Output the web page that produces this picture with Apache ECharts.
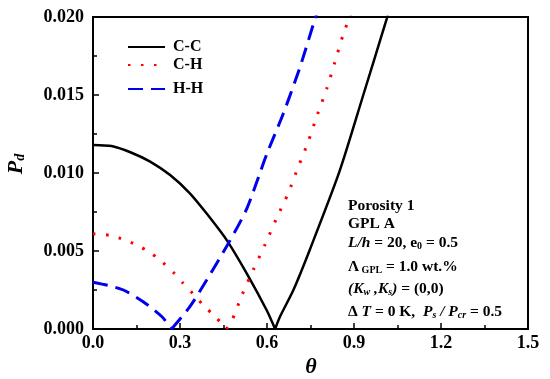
<!DOCTYPE html>
<html>
<head>
<meta charset="utf-8">
<script src="https://cdn.jsdelivr.net/npm/echarts@6/dist/echarts.min.js"></script>
<style>
html,body{margin:0;padding:0;background:#fff;}
#chart{width:550px;height:379px;}
</style>
</head>
<body>
<div id="chart"></div>
<script>
// ---- Data ----
var seriesNames = ['C-C', 'C-H', 'H-H'];

// C-C : descending arm, then rising arm (vertex shared)
var ccTheta = [0, 0.064, 0.133, 0.197, 0.266, 0.334, 0.392, 0.461, 0.53, 0.599, 0.628, 0.645, 0.691, 0.748, 0.85, 0.932, 1.013, 1.03];
var ccP     = [0.0118, 0.01173, 0.0113, 0.01073, 0.00987, 0.0087, 0.0074, 0.0057, 0.00357, 0.0012, 0.0, 0.0008, 0.0025, 0.0051, 0.0101, 0.015, 0.0199, 0.021];
var ccVertex = 10;

var chTheta = [0, 0.059, 0.105, 0.156, 0.197, 0.237, 0.277, 0.311, 0.346, 0.38, 0.415, 0.449, 0.46, 0.478, 0.513, 0.553, 0.593, 0.633, 0.673, 0.708, 0.742, 0.773, 0.806, 0.834, 0.863, 0.885, 0.9];
var chP     = [0.0061, 0.006, 0.00574, 0.00534, 0.0049, 0.00432, 0.00363, 0.00293, 0.00224, 0.00154, 0.0009, 0.00026, 0.0, 0.0005, 0.00214, 0.0038, 0.0054, 0.0071, 0.0087, 0.0104, 0.012, 0.0137, 0.0154, 0.0171, 0.0189, 0.02, 0.0209];
var chVertex = 12;

var hhTheta = [0, 0.05, 0.105, 0.173, 0.237, 0.271, 0.334, 0.392, 0.467, 0.53, 0.599, 0.656, 0.714, 0.766, 0.79];
var hhP     = [0.003, 0.0028, 0.0025, 0.00175, 0.0008, 0.0, 0.00143, 0.00314, 0.0055, 0.0077, 0.0112, 0.0138, 0.0168, 0.0199, 0.0212];
var hhVertex = 5;

var xTicks = {min: 0, max: 1.5, interval: 0.3};
var yTicks = {min: 0, max: 0.02, interval: 0.005};

var annotationLines = [
  'Porosity 1',
  'GPL A',
  '{i|L/h} = 20, e{sub|0} = 0.5',
  'Λ{sub| GPL} = 1.0 wt.%',
  '{i|(K}{isub|w}{i| ,K}{isub|s}{i|)} = (0,0)',
  'Δ {i|T} = 0 K,  {i|P}{isub|s}{i| / P}{isub|cr} = 0.5'
];

function zip(a, b, from, to) {
  var out = [];
  for (var i = from; i <= to; i++) out.push([a[i], b[i]]);
  return out;
}

var serif = '"Liberation Serif", "Times New Roman", serif';
var chart = echarts.init(document.getElementById('chart'), null, {renderer: 'canvas'});

var fs = 15.5;
var richStyles = {
  i:    {fontFamily: serif, fontWeight: 'bold', fontStyle: 'italic', fontSize: fs, fill: '#000'},
  sub:  {fontFamily: serif, fontWeight: 'bold', fontSize: 10, verticalAlign: 'bottom', fill: '#000'},
  isub: {fontFamily: serif, fontWeight: 'bold', fontStyle: 'italic', fontSize: 10, verticalAlign: 'bottom', fill: '#000'}
};
var lineY = [207, 225, 244, 268, 290, 313];
var graphics = annotationLines.map(function (t, k) {
  return {
    type: 'text', left: 348, top: lineY[k] - 9, z: 10,
    style: {text: t, fontFamily: serif, fontWeight: 'bold', fontSize: fs, fill: '#000', rich: richStyles}
  };
});
graphics.push({
  type: 'text', x: 16, y: 164, rotation: Math.PI / 2,
  style: {
    text: '{p|P}{d|d}', align: 'center', verticalAlign: 'middle',
    rich: {
      p: {fontFamily: serif, fontWeight: 'bold', fontStyle: 'italic', fontSize: 22, fill: '#000'},
      d: {fontFamily: serif, fontWeight: 'bold', fontStyle: 'italic', fontSize: 14, verticalAlign: 'bottom', fill: '#000'}
    }
  }
});
graphics.push({
  type: 'text', x: 311, y: 367,
  style: {text: 'θ', align: 'center', verticalAlign: 'middle', fontFamily: serif, fontWeight: 'bold', fontStyle: 'italic', fontSize: 22, fill: '#000'}
});

function legendFor(name, top) {
  return {
    data: [name], left: 127, top: top, padding: 0, orient: 'vertical',
    itemWidth: 37, itemHeight: 14,
    itemStyle: {opacity: 0},
    textStyle: {fontFamily: serif, fontWeight: 'bold', fontSize: 16, color: '#000', padding: [0, 0, 0, 3]}
  };
}

var styles = [
  {color: '#000', width: 2.5, type: 'solid'},
  {color: '#f00', width: 3, type: [2.5, 10.5]},
  {color: '#0000ee', width: 3, type: [15, 8]}
];
function arm(k, data) {
  return {
    name: seriesNames[k], type: 'line', data: data, symbol: 'none', clip: true,
    smooth: 0.25,
    lineStyle: styles[k], itemStyle: {color: styles[k].color}
  };
}

var option = {
  animation: false,
  backgroundColor: '#fff',
  grid: {left: 93, right: 22, top: 17, bottom: 50, show: true, borderColor: '#000', borderWidth: 2},
  legend: [legendFor('C-C', 39), legendFor('C-H', 57), legendFor('H-H', 81)],
  graphic: graphics,
  xAxis: {
    type: 'value', min: xTicks.min, max: xTicks.max, interval: xTicks.interval,
    axisLine: {lineStyle: {color: '#000', width: 2}},
    axisTick: {inside: true, length: 6, lineStyle: {color: '#000', width: 1.5}},
    minorTick: {show: true, splitNumber: 2, length: 4, lineStyle: {color: '#000', width: 1.5}},
    splitLine: {show: false},
    axisLabel: {margin: 5, color: '#000', fontFamily: serif, fontWeight: 'bold', fontSize: 18,
      formatter: function (v) { return v.toFixed(1); }}
  },
  yAxis: {
    type: 'value', min: yTicks.min, max: yTicks.max, interval: yTicks.interval,
    axisLine: {lineStyle: {color: '#000', width: 2}},
    axisTick: {inside: true, length: 6, lineStyle: {color: '#000', width: 1.5}},
    minorTick: {show: true, splitNumber: 2, length: 4, lineStyle: {color: '#000', width: 1.5}},
    splitLine: {show: false},
    axisLabel: {margin: 9, color: '#000', fontFamily: serif, fontWeight: 'bold', fontSize: 18,
      formatter: function (v) { return v.toFixed(3); }}
  },
  series: [
    arm(0, zip(ccTheta, ccP, 0, ccVertex)),
    arm(0, zip(ccTheta, ccP, ccVertex, ccTheta.length - 1)),
    arm(1, zip(chTheta, chP, 0, chVertex)),
    arm(1, zip(chTheta, chP, chVertex, chTheta.length - 1)),
    arm(2, zip(hhTheta, hhP, 0, hhVertex)),
    arm(2, zip(hhTheta, hhP, hhVertex, hhTheta.length - 1))
  ]
};
chart.setOption(option);
</script>
</body>
</html>
